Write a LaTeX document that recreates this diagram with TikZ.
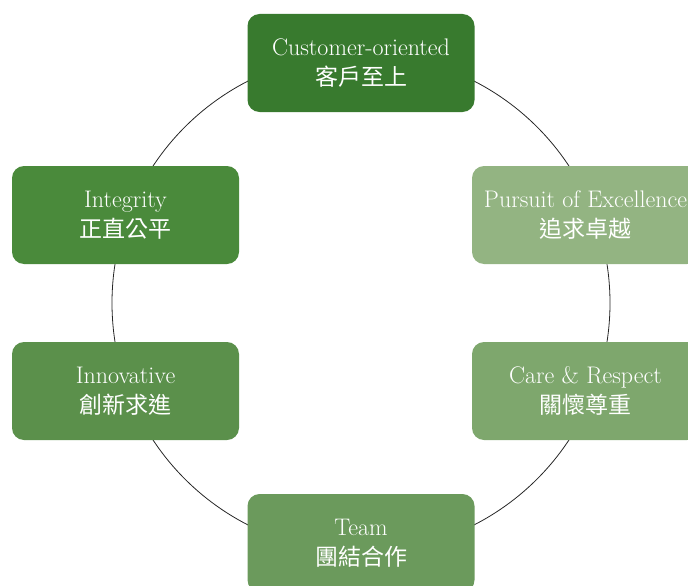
\documentclass[tikz,border=0pt]{standalone}
\usepackage{fontspec}
\newfontfamily\cjk{Noto Sans CJK TC}
\begin{document}
\begin{tikzpicture}[x=1pt,y=-1pt,
  valbox/.style={rounded corners=12pt, minimum width=227pt, minimum height=98pt,
    inner sep=0pt, text=white, align=center, font=\fontsize{24}{30}\selectfont},
  ring/.style={draw=black!85, line width=0.8pt}]
\clip (0,0) rectangle (688,586);
\useasboundingbox (0,0) rectangle (688,586);
\definecolor{cA}{HTML}{387A2E}
\definecolor{cB}{HTML}{4A8A3B}
\definecolor{cC}{HTML}{5B904B}
\definecolor{cD}{HTML}{6B9A5C}
\definecolor{cE}{HTML}{7EA76D}
\definecolor{cF}{HTML}{93B482}
\newcommand{\zh}[1]{{\cjk\fontsize{23}{30}\selectfont #1}}
\coordinate (ctr) at (361,303);
\draw[ring] (ctr) circle (249);
\node[valbox, fill=cA] (top) at (361,63) {Customer-oriented\\\zh{客戶至上}};
\node[valbox, fill=cF] (rt) at (585.5,215) {Pursuit of Excellence\\\zh{追求卓越}};
\node[valbox, fill=cE] (rb) at (585.5,391) {Care \& Respect\\\zh{關懷尊重}};
\node[valbox, fill=cD] (bot) at (361,543) {Team\\\zh{團結合作}};
\node[valbox, fill=cC] (lb) at (125.5,391) {Innovative\\\zh{創新求進}};
\node[valbox, fill=cB] (lt) at (125.5,215) {Integrity\\\zh{正直公平}};
\end{tikzpicture}
\end{document}
